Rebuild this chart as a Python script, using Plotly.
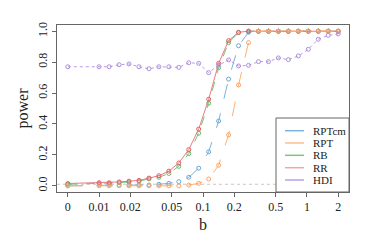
import plotly.graph_objects as go

# ---- data ----
b_values = [0, 0.01, 0.0125, 0.0156, 0.0194, 0.0242, 0.0302, 0.0376, 0.0469, 0.0585,
            0.0729, 0.0909, 0.1134, 0.1414, 0.1763, 0.2199, 0.2742, 0.342, 0.4265,
            0.5318, 0.6632, 0.827, 1.0313, 1.2861, 1.6038, 2.0]
zero_position = 0.005  # where b = 0 is drawn on the log axis

rptcm = [0.0, 0.005, 0.005, 0.005, 0.005, 0.005, 0.005, 0.01, 0.016, 0.027, 0.055, 0.114,
         0.22, 0.419, 0.69, 0.906, 0.993, 1, 1, 1, 1, 1, 1, 1, 1, 1]
rpt = [0, 0, 0, 0, 0, 0, 0, 0, 0, 0, 0.005, 0.016, 0.044, 0.133, 0.329, 0.652, 0.926,
       1, 1, 1, 1, 1, 1, 1, 1, 1]
rb = [0.01, 0.015, 0.015, 0.02, 0.025, 0.03, 0.045, 0.055, 0.08, 0.126, 0.208, 0.34,
      0.534, 0.764, 0.926, 0.99, 1, 1, 1, 1, 1, 1, 1, 1, 1, 1]
rr = [0.015, 0.02, 0.02, 0.025, 0.03, 0.035, 0.05, 0.065, 0.095, 0.148, 0.234, 0.367,
      0.56, 0.792, 0.939, 0.993, 1, 1, 1, 1, 1, 1, 1, 1, 1, 1]
hdi = [0.77, 0.77, 0.77, 0.783, 0.788, 0.77, 0.757, 0.77, 0.77, 0.766, 0.796, 0.792,
       0.732, 0.78, 0.814, 0.775, 0.779, 0.803, 0.803, 0.827, 0.816, 0.84, 0.883,
       0.948, 0.973, 0.982]

series_names = ["RPTcm", "RPT", "RB", "RR", "HDI"]
x_tick_values = [0, 0.01, 0.02, 0.05, 0.1, 0.2, 0.5, 1, 2]
x_tick_labels = ["0", "0.01", "0.02", "0.05", "0.1", "0.2", "0.5", "1", "2"]
y_tick_values = [0, 0.2, 0.4, 0.6, 0.8, 1.0]
y_tick_labels = ["0.0", "0.2", "0.4", "0.6", "0.8", "1.0"]
reference_level = 0.01

# ---- layout (page pixels; the page body has an 8px margin) ----
OFF = 8
W, H = 374 - 2 * OFF, 249 - 2 * OFF
PX0, PX1, PY0, PY1 = 57, 349, 25, 192          # plot box in page pixels
L, T = PX0 - OFF, PY0 - OFF
PW, PH = PX1 - PX0, PY1 - PY0
R, B = W - L - PW, H - T - PH
FONT = "Liberation Serif"

point_colors = {"RPTcm": "#6aa8d8", "RPT": "#ffa25e", "RB": "#68bb68", "RR": "#e45c66", "HDI": "#ad8fdc"}
line_colors = {"RPTcm": "#7ab2dc", "RPT": "#ffb071", "RB": "#78c278", "RR": "#ea7c82", "HDI": "#b89ce0"}
legend_colors = {"RPTcm": "#80b4de", "RPT": "#ffbe8a", "RB": "#80c680", "RR": "#f2a6aa", "HDI": "#bba0e2"}
dashes = {"RPTcm": "longdash", "RPT": "longdash", "RB": "dash", "RR": "solid", "HDI": "dot"}

data = {"RPTcm": rptcm, "RPT": rpt, "RB": rb, "RR": rr, "HDI": hdi}
draw_order = ["RPTcm", "RB", "RR", "RPT", "HDI"]

x_plot = [v if v > 0 else zero_position for v in b_values]
x_ticks_plot = [v if v > 0 else zero_position for v in x_tick_values]

fig = go.Figure()
for name in draw_order:
    fig.add_trace(go.Scatter(
        x=x_plot, y=data[name], mode="lines+markers", name=name, showlegend=False,
        line=dict(color=line_colors[name], width=1, dash=dashes[name]),
        marker=dict(symbol="circle-open", size=4, color=point_colors[name],
                    line=dict(width=1, color=point_colors[name])),
    ))

def px_x(px):
    return (px - PX0) / PW

def px_y(py):
    return (PY1 - py) / PH

shapes = [
    dict(type="line", xref="paper", yref="y", x0=0, x1=1, y0=reference_level, y1=reference_level,
         line=dict(color="#c8c8c8", width=1, dash="3px,3px"), layer="below"),
    # legend box
    dict(type="rect", xref="paper", yref="paper", x0=px_x(276), x1=1, y0=0, y1=px_y(118),
         line=dict(color="#666666", width=1), fillcolor="white", layer="above"),
]
annotations = []
row_y = [130.7, 143.0, 155.3, 167.7, 180.0]
for name, ry in zip(series_names, row_y):
    shapes.append(dict(type="line", xref="paper", yref="paper", x0=px_x(285), x1=px_x(304),
                       y0=px_y(ry), y1=px_y(ry), line=dict(color=legend_colors[name], width=1.5),
                       layer="above"))
    annotations.append(dict(xref="paper", yref="paper", x=px_x(311), y=px_y(ry), text=name,
                            showarrow=False, xanchor="left", yanchor="middle",
                            font=dict(family=FONT, size=11, color="#222222")))

fig.update_layout(
    width=W, height=H, margin=dict(l=L, r=R, t=T, b=B, pad=0, autoexpand=False),
    paper_bgcolor="white", plot_bgcolor="white",
    font=dict(family=FONT, size=12, color="#222222"),
    showlegend=False, shapes=shapes, annotations=annotations,
    xaxis=dict(type="log", range=[-2.405, 0.405], tickvals=x_ticks_plot, ticktext=x_tick_labels,
               ticks="outside", ticklen=4, tickcolor="#666666", showline=True, linecolor="#666666",
               linewidth=1, mirror=True, showgrid=False, zeroline=False, automargin=False,
               title=dict(text="b", font=dict(family=FONT, size=16), standoff=5),
               tickfont=dict(family=FONT, size=12)),
    yaxis=dict(range=[-0.04, 1.04], tickvals=y_tick_values, ticktext=y_tick_labels,
               ticks="outside", ticklen=4, tickcolor="#666666", showline=True, linecolor="#666666",
               linewidth=1, mirror=True, showgrid=False, zeroline=False, tickangle=-90,
               automargin=False,
               title=dict(text="power", font=dict(family=FONT, size=16), standoff=3),
               tickfont=dict(family=FONT, size=12)),
)

fig.write_html("out.html")
